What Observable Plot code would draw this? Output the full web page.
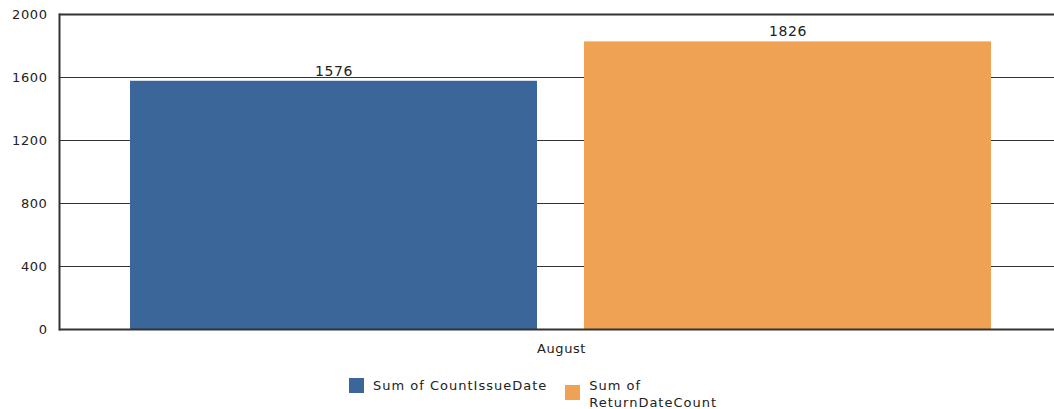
<!DOCTYPE html>
<html>
<head>
<meta charset="utf-8">
<script src="https://cdn.jsdelivr.net/npm/d3@7"></script>
<script src="https://cdn.jsdelivr.net/npm/@observablehq/plot@0.6"></script>
<style>
  body { margin: 0; background: #fff; font-family: "DejaVu Sans", Verdana, sans-serif; }
  #chart { position: relative; width: 1054px; height: 409px; overflow: hidden; }
  #chart svg text { letter-spacing: 0.6px; }
  #legend { position: absolute; top: 377px; left: 349px; display: flex; align-items: flex-start; font-size: 13px; color: #222; line-height: 17px; letter-spacing: 1px; }
  .item { display: flex; align-items: flex-start; margin-right: 18px; }
  .sw { width: 15px; height: 15px; margin-right: 9px; margin-top: 8px; }
</style>
</head>
<body>
<div id="chart"></div>
<script>
const categories = ["August"];
const seriesNames = ["Sum of CountIssueDate", "Sum of ReturnDateCount"];
const legendLabels = [["Sum of CountIssueDate"], ["Sum of", "ReturnDateCount"]];
const countIssueDate = [1576];
const returnDateCount = [1826];
const colors = ["#3b6699", "#efa253"];
const yTicks = [0, 400, 800, 1200, 1600, 2000];

const data = [];
categories.forEach((c, i) => {
  data.push({category: c, series: seriesNames[0], value: countIssueDate[i]});
  data.push({category: c, series: seriesNames[1], value: returnDateCount[i]});
});

const plot = Plot.plot({
  width: 1054,
  height: 362,
  marginLeft: 59,
  marginRight: -9,
  marginTop: 14,
  marginBottom: 33,
  style: {fontFamily: "DejaVu Sans, Verdana, sans-serif", fontSize: "13px", color: "#222", background: "#fff", overflow: "visible"},
  fx: {domain: categories, padding: 0, label: null, axis: "bottom", tickSize: 0, tickPadding: 14},
  x: {domain: seriesNames, axis: null, paddingInner: 0.103, paddingOuter: 0.156},
  y: {domain: [0, 2000], ticks: yTicks, tickFormat: d3.format("d"), label: null, tickSize: 0, tickPadding: 12},
  color: {domain: seriesNames, range: colors},
  marks: [
    Plot.ruleY(yTicks.filter(d => d > 0 && d < 2000), {stroke: "#333", strokeWidth: 1.2}),
    Plot.barY(data, {fx: "category", x: "series", y: "value", fill: "series"}),
    Plot.text(data, {fx: "category", x: "series", y: "value", text: d => String(d.value), dy: -10, fontSize: 14, fill: "#222"}),
    Plot.ruleY([2000], {stroke: "#333", strokeWidth: 2}),
    Plot.ruleY([0], {stroke: "#333", strokeWidth: 2}),
    Plot.frame({anchor: "left", stroke: "#333", strokeWidth: 2})
  ]
});
document.getElementById("chart").appendChild(plot);

const legend = document.createElement("div");
legend.id = "legend";
seriesNames.forEach((s, i) => {
  const item = document.createElement("div");
  item.className = "item";
  const sw = document.createElement("div");
  sw.className = "sw";
  sw.style.background = colors[i];
  if (legendLabels[i].length === 1) sw.style.marginTop = "1px";
  const t = document.createElement("div");
  t.innerHTML = legendLabels[i].join("<br>");
  item.appendChild(sw); item.appendChild(t);
  legend.appendChild(item);
});
document.getElementById("chart").appendChild(legend);
</script>
</body>
</html>
